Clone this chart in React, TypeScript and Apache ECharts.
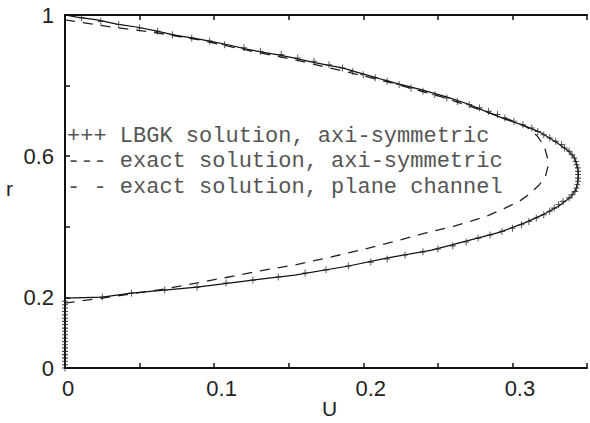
import React, { useEffect, useRef } from 'react';
import * as echarts from 'echarts';

// exact solution, axi-symmetric (U, r)
const exactAxiU = [0, 0.008, 0.0216, 0.0348, 0.0479, 0.061, 0.0734, 0.0852, 0.097, 0.11, 0.121, 0.132, 0.143, 0.154, 0.165, 0.176, 0.186, 0.195, 0.205, 0.214, 0.2216, 0.2393, 0.2557, 0.2702, 0.2833, 0.2951, 0.3069, 0.318, 0.3292, 0.3377, 0.3416, 0.3436, 0.3443, 0.3436, 0.3423, 0.339, 0.3311, 0.3213, 0.3082, 0.2918, 0.2721, 0.2459, 0.2164, 0.1902, 0.1541, 0.1259, 0.0885, 0.0446, 0.0249, 0];
const exactAxiR = [1.0, 0.994, 0.986, 0.974, 0.966, 0.955, 0.943, 0.935, 0.926, 0.915, 0.904, 0.895, 0.887, 0.878, 0.867, 0.858, 0.85, 0.839, 0.827, 0.816, 0.807, 0.788, 0.768, 0.748, 0.725, 0.705, 0.688, 0.669, 0.64, 0.615, 0.595, 0.572, 0.547, 0.521, 0.504, 0.484, 0.459, 0.436, 0.411, 0.385, 0.363, 0.334, 0.312, 0.289, 0.263, 0.249, 0.229, 0.212, 0.201, 0.198];

// exact solution, plane channel (U, r)
const planeU = [0, 0.0315, 0.0623, 0.0905, 0.1213, 0.1541, 0.1869, 0.2197, 0.2525, 0.2787, 0.2984, 0.3095, 0.3167, 0.3213, 0.3233, 0.3239, 0.322, 0.3174, 0.3115, 0.3049, 0.2951, 0.2833, 0.2721, 0.261, 0.2413, 0.2197, 0.198, 0.1757, 0.1541, 0.1344, 0.1062, 0.0669, 0.0249, 0];
const planeR = [0.986, 0.966, 0.949, 0.929, 0.901, 0.873, 0.841, 0.807, 0.768, 0.731, 0.703, 0.683, 0.657, 0.629, 0.598, 0.572, 0.541, 0.516, 0.493, 0.473, 0.453, 0.431, 0.416, 0.402, 0.382, 0.357, 0.334, 0.312, 0.292, 0.278, 0.255, 0.224, 0.198, 0.184];

// LBGK solution, axi-symmetric (U, r)
const lbgkU = [0, 0, 0, 0, 0, 0, 0, 0, 0, 0, 0, 0, 0, 0, 0, 0, 0, 0, 0, 0, 0,
  0.025, 0.0446, 0.0669, 0.0885, 0.108, 0.126, 0.143, 0.161, 0.175, 0.19, 0.205, 0.216, 0.228, 0.24, 0.25, 0.26, 0.269, 0.277,
  0.285, 0.293, 0.3, 0.306, 0.311, 0.316, 0.321, 0.325, 0.328, 0.331, 0.334, 0.338, 0.34, 0.342, 0.343, 0.3435, 0.344, 0.344, 0.344, 0.344,
  0.3437, 0.343, 0.3425, 0.3415, 0.34, 0.338, 0.335, 0.333, 0.329, 0.325, 0.321, 0.317, 0.313, 0.307, 0.301, 0.295, 0.29, 0.284, 0.278, 0.271,
  0.263, 0.256, 0.248, 0.24, 0.232, 0.224, 0.216, 0.208, 0.2, 0.193, 0.186, 0.177, 0.167, 0.156, 0.145, 0.131, 0.12, 0.107, 0.097, 0.085,
  0.072, 0.062, 0.05, 0.036, 0.024, 0.011];
const lbgkR = [0, 0.009, 0.019, 0.028, 0.038, 0.047, 0.057, 0.066, 0.075, 0.085, 0.094, 0.104, 0.113, 0.123, 0.132, 0.141, 0.151, 0.16, 0.17, 0.179, 0.189,
  0.201, 0.212, 0.221, 0.229, 0.241, 0.249, 0.258, 0.269, 0.278, 0.289, 0.3, 0.309, 0.32, 0.329, 0.337, 0.346, 0.357, 0.368,
  0.377, 0.387, 0.396, 0.406, 0.415, 0.425, 0.434, 0.444, 0.453, 0.463, 0.472, 0.482, 0.491, 0.5, 0.51, 0.519, 0.529, 0.538, 0.548, 0.557,
  0.567, 0.576, 0.585, 0.595, 0.604, 0.614, 0.623, 0.633, 0.642, 0.652, 0.661, 0.67, 0.68, 0.689, 0.699, 0.708, 0.718, 0.727, 0.737, 0.746,
  0.755, 0.765, 0.774, 0.784, 0.793, 0.803, 0.812, 0.822, 0.831, 0.84, 0.85, 0.859, 0.869, 0.878, 0.888, 0.897, 0.907, 0.916, 0.926, 0.935,
  0.944, 0.954, 0.963, 0.973, 0.982, 0.992];

const xTickLabels = ['0', '0.1', '0.2', '0.3'];
const yTickLabels = ['0', '0.2', '0.6', '1'];
const legendLines = [
  '+++ LBGK solution, axi-symmetric',
  '--- exact solution, axi-symmetric',
  '- - exact solution, plane channel',
];
const xName = 'U';
const yName = 'r';

const pairs = (xs: number[], ys: number[]) => xs.map((x, i) => [x, ys[i]]);
const fmt = (v: number) => String(Number(v.toFixed(2)));

const SANS = 'Liberation Sans, Arial, Helvetica, sans-serif';
const MONO = 'Liberation Mono, Courier New, monospace';

export default function App() {
  const ref = useRef<HTMLDivElement>(null);
  useEffect(() => {
    if (!ref.current) return;
    const chart = echarts.init(ref.current, undefined, { renderer: 'svg' });
    const axisLine = { show: true, lineStyle: { color: '#111', width: 2 } };
    const axisTick = { show: true, inside: true, length: 5, lineStyle: { color: '#111', width: 1.5 } };
    chart.setOption({
      animation: false,
      backgroundColor: '#fff',
      grid: { left: 65, top: 15, width: 534, height: 353, containLabel: false },
      xAxis: [
        {
          type: 'value', min: 0, max: 0.35, interval: 0.05, position: 'bottom',
          axisLine, axisTick, splitLine: { show: false },
          axisLabel: {
            margin: 9,
            formatter: (v: number) => {
              const t = fmt(v);
              if (!xTickLabels.includes(t)) return '';
              return t === '0' ? `{z|${t}}` : `{m|${t}}`;
            },
            rich: {
              z: { fontSize: 22, fontFamily: SANS, color: '#222', padding: [0, 0, 0, 6] },
              m: { fontSize: 22, fontFamily: SANS, color: '#222', padding: [0, 0, 0, 15] },
            },
          },
        },
        {
          type: 'value', min: 0, max: 0.35, interval: 0.05, position: 'top',
          axisLine, axisTick, axisLabel: { show: false }, splitLine: { show: false },
        },
      ],
      yAxis: [
        {
          type: 'value', min: 0, max: 1, interval: 0.2,
          axisLine, axisTick, splitLine: { show: false },
          axisLabel: {
            margin: 11, fontSize: 22, fontFamily: SANS, color: '#222',
            formatter: (v: number) => {
              const t = fmt(v);
              return yTickLabels.includes(t) ? t : '';
            },
          },
        },
      ],
      series: [
        {
          type: 'line', data: pairs(planeU, planeR), showSymbol: false, symbol: 'none',
          lineStyle: { color: '#222', width: 1.3, type: [10, 8] }, z: 2,
        },
        {
          type: 'line', data: pairs(exactAxiU, exactAxiR), showSymbol: false, symbol: 'none',
          lineStyle: { color: '#111', width: 1.2 }, z: 3,
        },
        {
          type: 'scatter', data: pairs(lbgkU, lbgkR),
          symbol: 'path://M0,5L10,5M5,0L5,10', symbolSize: [6, 7],
          itemStyle: { color: 'rgba(0,0,0,0)', borderColor: '#222', borderWidth: 1 },
          z: 4,
        },
      ],
      graphic: legendLines.map((t, i) => ({
        type: 'text', left: 67, top: 125 + i * 25.5,
        style: { text: t, fontFamily: MONO, fontSize: 22, fill: '#555' },
      })).concat([
        { type: 'text', left: 322, top: 398, style: { text: xName, fontFamily: SANS, fontSize: 21, fill: '#222' } } as any,
        { type: 'text', left: 6, top: 178, style: { text: yName, fontFamily: SANS, fontSize: 21, fill: '#222' } } as any,
      ]),
    });
    return () => chart.dispose();
  }, []);
  return <div ref={ref} style={{ position: 'fixed', left: 0, top: 0, width: 590, height: 423 }} />;
}
